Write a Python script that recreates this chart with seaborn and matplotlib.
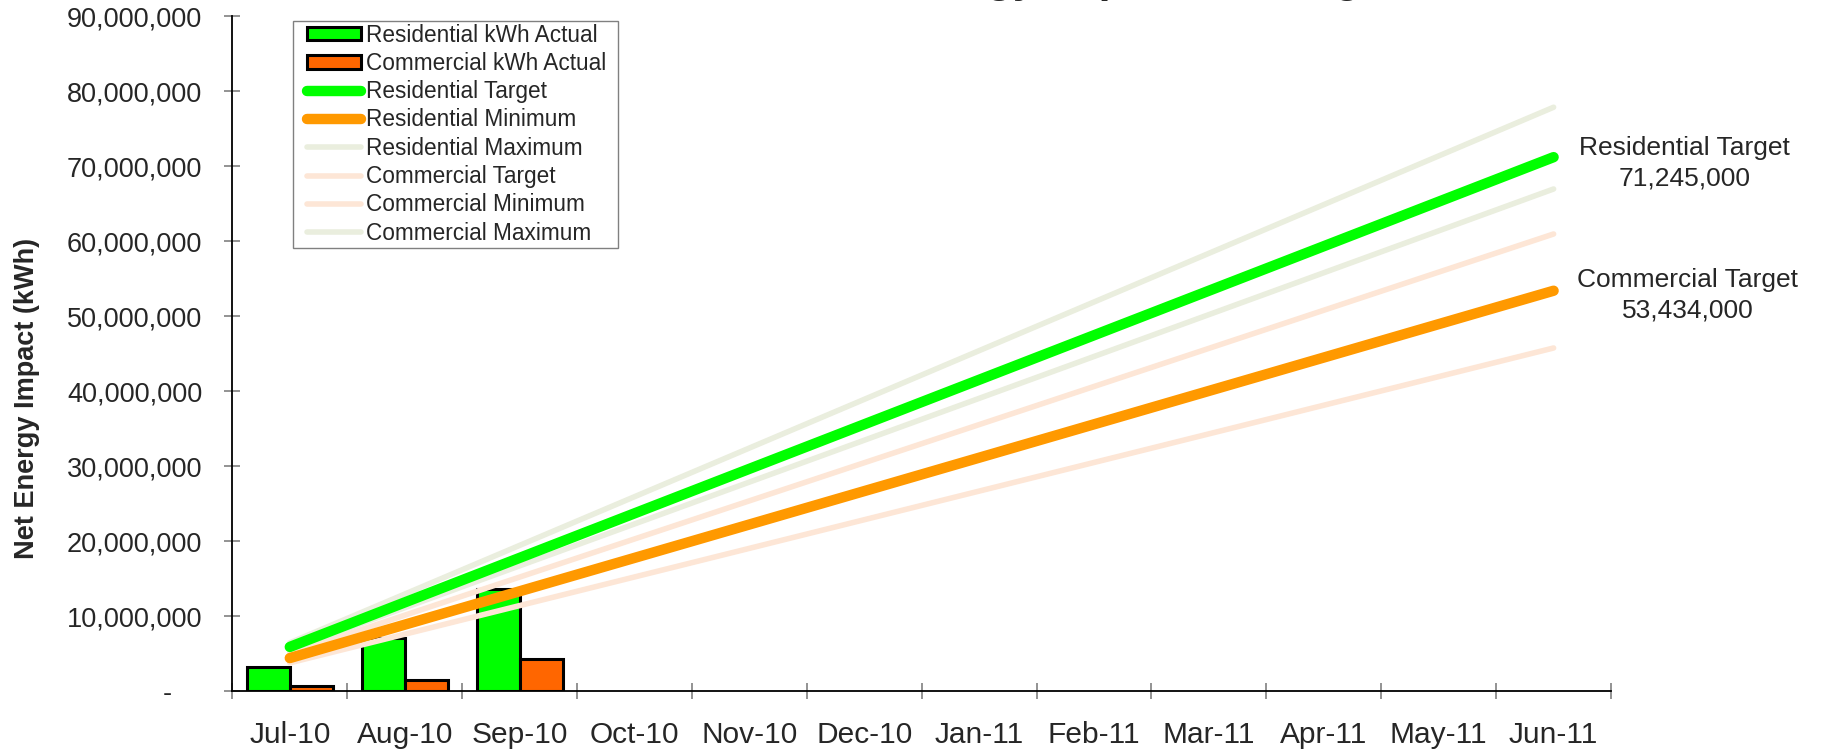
import numpy as np
import pandas as pd
import matplotlib
matplotlib.use("Agg")
import matplotlib.pyplot as plt
import seaborn as sns
from matplotlib.patches import Patch, Rectangle
from matplotlib.ticker import FuncFormatter

# 데이터 (그림에서 읽은 값, kWh)
months = ["Jul-10", "Aug-10", "Sep-10", "Oct-10", "Nov-10", "Dec-10",
          "Jan-11", "Feb-11", "Mar-11", "Apr-11", "May-11", "Jun-11"]
actual_months = ["Jul-10", "Aug-10", "Sep-10"]
res_actual = [3200000, 7070000, 13700000]
com_actual = [670000, 1560000, 4360000]

res_target = [5937000, 11874000, 17811000, 23748000, 29685000, 35623000,
              41560000, 47497000, 53434000, 59371000, 65308000, 71245000]
com_target = [4453000, 8906000, 13359000, 17811000, 22264000, 26717000,
              31170000, 35623000, 40076000, 44528000, 48981000, 53434000]
res_max = [6492000, 12983000, 19475000, 25967000, 32458000, 38950000,
           45442000, 51933000, 58425000, 64917000, 71408000, 77900000]
res_min = [5583000, 11167000, 16750000, 22333000, 27917000, 33500000,
           39083000, 44667000, 50250000, 55833000, 61417000, 67000000]
com_max = [5083000, 10167000, 15250000, 20333000, 25417000, 30500000,
           35583000, 40667000, 45750000, 50833000, 55917000, 61000000]
com_min = [3817000, 7633000, 11450000, 15267000, 19083000, 22900000,
           26717000, 30533000, 34350000, 38167000, 41983000, 45800000]

legend_labels = ["Residential kWh Actual", "Commercial kWh Actual",
                 "Residential Target", "Residential Minimum", "Residential Maximum",
                 "Commercial Target", "Commercial Minimum", "Commercial Maximum"]

# 스타일
sns.set_style("white")
plt.rcParams["font.family"] = ["Liberation Sans", "DejaVu Sans"]

GREEN = "#00FF00"
ORANGE_BAR = "#FF6600"
ORANGE = "#FF9900"
PALE_GREEN = "#EAEEDE"
PALE_ORANGE = "#FDE6D6"

W, H = 1821, 753
fig = plt.figure(figsize=(W / 100, H / 100), dpi=100)
ax = fig.add_axes([0.1276, 0.0817, 0.7571, 0.8964])

# 막대 (실적)
bars = pd.DataFrame({
    "month": actual_months * 2,
    "kwh": res_actual + com_actual,
    "series": [legend_labels[0]] * 3 + [legend_labels[1]] * 3,
})
sns.barplot(data=bars, x="month", y="kwh", hue="series", order=months,
            palette=[GREEN, ORANGE_BAR], saturation=1, width=0.75,
            edgecolor="black", linewidth=2.2, legend=False, ax=ax, zorder=2)

# 목표/범위 선
x = np.arange(len(months))
pale_kw = dict(linewidth=4.0, solid_capstyle="round", zorder=3)
thick_kw = dict(linewidth=7.5, solid_capstyle="round", zorder=4)
l_res_max, = ax.plot(x, res_max, color=PALE_GREEN, **pale_kw)
l_com_max, = ax.plot(x, com_max, color=PALE_ORANGE, **pale_kw)
l_com_min, = ax.plot(x, com_min, color=PALE_ORANGE, **pale_kw)
l_res_min, = ax.plot(x, res_min, color=PALE_GREEN, **pale_kw)
l_res_t, = ax.plot(x, res_target, color=GREEN, **thick_kw)
l_com_t, = ax.plot(x, com_target, color=ORANGE, **thick_kw)

# 축
ax.set_xlim(-0.5, len(months) - 0.5)
ax.set_ylim(0, 90000000)
ax.set_yticks(np.arange(0, 90000001, 10000000))
ax.yaxis.set_major_formatter(FuncFormatter(lambda v, p: "-    " if v == 0 else f"{v:,.0f}"))
ax.set_xticks(x)
ax.set_xticklabels(months)
ax.set_xticks(np.arange(-0.5, len(months), 1), minor=True)
ax.set_xlabel("")
ax.set_ylabel("")
ax.tick_params(axis="x", which="major", bottom=True, length=0, pad=21, labelsize=21.5)
ax.tick_params(axis="x", which="minor", bottom=True, direction="inout", length=12,
               width=1.2, color="#808080")
ax.tick_params(axis="y", left=True, direction="inout", length=11.5, width=1.2,
               color="#808080", labelsize=19.5, pad=16)
for s in ["top", "right"]:
    ax.spines[s].set_visible(False)
for s in ["left", "bottom"]:
    ax.spines[s].set_color("black")
    ax.spines[s].set_linewidth(1.3)

fig.text(27 / W, 1 - 398 / H, "Net Energy Impact (kWh)", rotation=90,
         ha="center", va="center", fontsize=19.5, fontweight="bold")

# 제목 (위쪽이 잘려 있음)
fig.text(0.4448, 1.0106, "Net Energy Impact vs. Targets", ha="left", va="baseline",
         fontsize=31, fontweight="bold")

# 끝점 라벨
ax.annotate(f"Residential Target\n{res_target[-1]:,}", xy=(x[-1], res_target[-1]),
            xytext=(94, -4.5), textcoords="offset points", ha="center", va="center",
            fontsize=19, linespacing=1.35)
ax.annotate(f"Commercial Target\n{com_target[-1]:,}", xy=(x[-1], com_target[-1]),
            xytext=(96.5, -3.5), textcoords="offset points", ha="center", va="center",
            fontsize=19, linespacing=1.35)

# 범례 (테두리는 따로 그림)
handles = [Patch(facecolor=GREEN, edgecolor="black", linewidth=2.2),
           Patch(facecolor=ORANGE_BAR, edgecolor="black", linewidth=2.2),
           l_res_t, l_com_t, l_res_max, l_com_max, l_com_min, l_res_min]
leg = ax.legend(handles, legend_labels, loc="upper left",
                bbox_to_anchor=(307 / W, 1 - 23.5 / H), bbox_transform=fig.transFigure,
                borderaxespad=0, fontsize=16.3, handlelength=2.4, handleheight=0.55,
                handletextpad=0.2, labelspacing=0.235, borderpad=0, frameon=False)
fig.patches.append(Rectangle((292.7 / W, 1 - 248.3 / H), (618.3 - 292.7) / W,
                             (248.3 - 21) / H, transform=fig.transFigure,
                             facecolor="none", edgecolor="#808080", linewidth=1.0,
                             zorder=10))

fig.savefig("out.png", dpi=100)
plt.close(fig)
